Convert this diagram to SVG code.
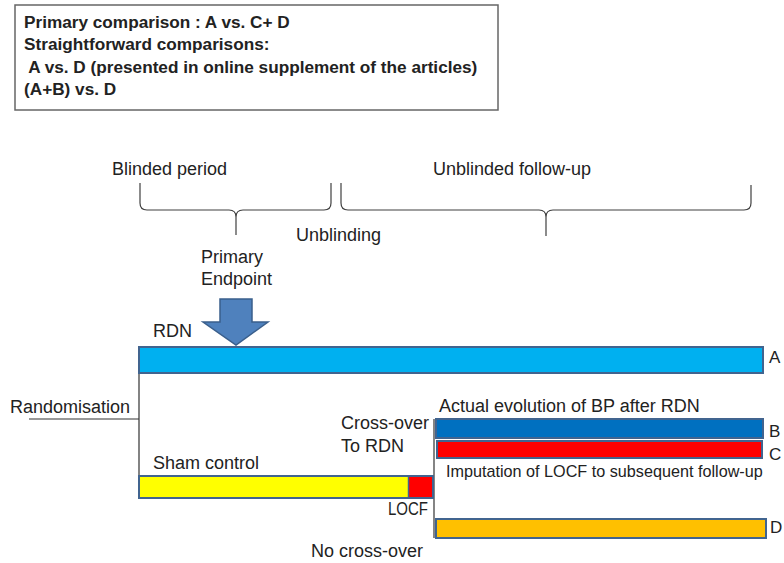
<svg xmlns="http://www.w3.org/2000/svg" width="784" height="563" viewBox="0 0 784 563">
<style>
text{font-family:"Liberation Sans",Arial,sans-serif;fill:#222;font-size:18px}
.b{font-weight:bold;font-size:17.2px}
.s{font-size:16.2px}
.lab{font-size:17px}
.bar{stroke:#41648F;stroke-width:2}
.ln{fill:none;stroke:#333;stroke-width:1.2}
.br{fill:none;stroke:#404040;stroke-width:1.2}
</style>
<rect width="784" height="563" fill="#fff"/>
<g id="summary">
<rect x="15" y="5" width="483" height="105" fill="#fff" stroke="#666" stroke-width="1.5"/>
<text class="b" x="24" y="28">Primary comparison : A vs. C+ D</text>
<text class="b" x="24" y="50">Straightforward comparisons:</text>
<text class="b" x="24" y="73" xml:space="preserve"> A vs. D (presented in online supplement of the articles)</text>
<text class="b" x="24" y="95">(A+B) vs. D</text>
</g>
<g id="blinded-period">
<text x="112" y="175">Blinded period</text>
<path class="br" d="M140,183 L140,203 Q140,210 147,210 L229,210 Q236,210 236,217 L236,235 M236,217 Q236,210 243,210 L324,210 Q331,210 331,203 L331,183"/>
</g>
<g id="unblinded-follow-up">
<text x="433" y="175">Unblinded follow-up</text>
<path class="br" d="M341,183 L341,203 Q341,210 348,210 L539,210 Q546,210 546,217 L546,236 M546,217 Q546,210 553,210 L744,210 Q751,210 751,203 L751,185"/>
</g>
<g id="unblinding"><text x="296" y="241">Unblinding</text></g>
<g id="connectors">
<path class="ln" d="M29,419 H139 M139,347 V498"/>
<path class="ln" d="M434,419 V538" stroke="#555"/>
</g>
<g id="primary-endpoint">
<text x="201" y="263">Primary</text>
<text x="201" y="285">Endpoint</text>
<polygon points="220,299 252,299 252,322 268,322 236,345 203,322 220,322" fill="#4F81BD" stroke="#3A5F8C" stroke-width="1.5"/>
</g>
<g id="bar-A">
<text x="153" y="337">RDN</text>
<rect class="bar" x="139" y="347" width="624" height="26" fill="#00B0F0"/>
<text class="lab" x="769" y="363">A</text>
</g>
<g id="randomisation"><text x="10" y="413">Randomisation</text></g>
<g id="sham">
<text x="153" y="469">Sham control</text>
<rect class="bar" x="139" y="476" width="294" height="22" fill="#FFFF00"/>
<rect x="409" y="477" width="23" height="20" fill="#FF0000"/>
<line x1="408.5" y1="477" x2="408.5" y2="497" stroke="#41648F" stroke-width="1.5"/>
<text x="388" y="515" textLength="40" lengthAdjust="spacingAndGlyphs">LOCF</text>
</g>
<g id="crossover">
<text x="341" y="429">Cross-over</text>
<text x="341" y="452">To RDN</text>
</g>
<g id="bar-B">
<text x="439" y="412">Actual evolution of BP after RDN</text>
<rect class="bar" x="436" y="419" width="327" height="19" fill="#0070C0"/>
<text class="lab" x="769" y="437">B</text>
</g>
<g id="bar-C">
<rect class="bar" x="437" y="441" width="325" height="17" fill="#FF0000"/>
<text class="lab" x="769" y="460">C</text>
<text class="s" x="446" y="477">Imputation of LOCF to subsequent follow-up</text>
</g>
<g id="bar-D">
<rect class="bar" x="436" y="519" width="330" height="19" fill="#FFC000"/>
<text class="lab" x="770" y="533">D</text>
<text x="311" y="557">No cross-over</text>
</g>
</svg>
